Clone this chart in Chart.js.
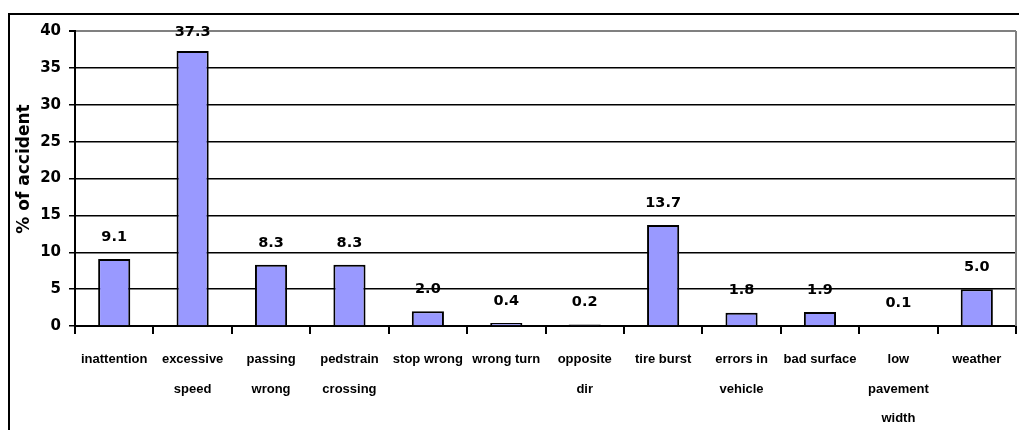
<!DOCTYPE html>
<html>
<head>
<meta charset="utf-8">
<title>% of accident by cause</title>
<script src="https://cdn.jsdelivr.net/npm/chart.js@4/dist/chart.umd.min.js"></script>
<style>
  html, body { margin: 0; padding: 0; background: #ffffff; }
  canvas { display: block; }
</style>
</head>
<body>
<canvas id="c" width="1019" height="430"></canvas>
<script>
// Accident causes (multi-line category labels) and their share in percent
const categories = [
  ["inattention"],
  ["excessive", "speed"],
  ["passing", "wrong"],
  ["pedstrain", "crossing"],
  ["stop wrong"],
  ["wrong turn"],
  ["opposite", "dir"],
  ["tire burst"],
  ["errors in", "vehicle"],
  ["bad surface"],
  ["low", "pavement", "width"],
  ["weather"]
];
const percentValues = [9.1, 37.3, 8.3, 8.3, 2.0, 0.4, 0.2, 13.7, 1.8, 1.9, 0.1, 5.0];

// Value axis range and tick step
const yMin = 0;
const yMax = 40;
const yStep = 5;
const yTitle = "% of accident";

const NUM_FONT = "bold 14.5px 'DejaVu Sans', sans-serif";

// Outer chart frame plus the grey right edge of the plot area
const framePlugin = {
  id: "frame",
  beforeDraw(chart) {
    const ctx = chart.ctx;
    ctx.save();
    ctx.fillStyle = "#ffffff";
    ctx.fillRect(0, 0, chart.width, chart.height);
    ctx.strokeStyle = "#000000";
    ctx.lineWidth = 2;
    ctx.beginPath();
    ctx.moveTo(9, chart.height + 5);
    ctx.lineTo(9, 14);
    ctx.lineTo(chart.width + 5, 14);
    ctx.stroke();
    ctx.restore();
  },
  beforeDatasetsDraw(chart) {
    const { ctx, chartArea } = chart;
    ctx.save();
    ctx.strokeStyle = "#808080";
    ctx.lineWidth = 2;
    ctx.beginPath();
    ctx.moveTo(chartArea.right, chartArea.top);
    ctx.lineTo(chartArea.right, chartArea.bottom);
    ctx.stroke();
    ctx.restore();
  }
};

// Value labels above each bar
const valueLabelPlugin = {
  id: "valueLabels",
  afterDatasetsDraw(chart) {
    const { ctx, chartArea } = chart;
    const meta = chart.getDatasetMeta(0);
    const data = chart.data.datasets[0].data;
    ctx.save();
    ctx.font = NUM_FONT;
    ctx.fillStyle = "#000000";
    ctx.textAlign = "center";
    ctx.textBaseline = "middle";
    meta.data.forEach((bar, i) => {
      const y = Math.max(bar.y - 22, chartArea.top + 1.5);
      ctx.fillText(data[i].toFixed(1), bar.x, y);
    });
    ctx.restore();
  }
};

// Rotated value-axis title
const yTitlePlugin = {
  id: "yTitle",
  afterDraw(chart) {
    const ctx = chart.ctx;
    ctx.save();
    ctx.translate(25, 169);
    ctx.rotate(-Math.PI / 2);
    ctx.font = "bold 17px 'DejaVu Sans', sans-serif";
    ctx.fillStyle = "#000000";
    ctx.textAlign = "center";
    ctx.textBaseline = "middle";
    ctx.fillText(yTitle, 0, 0);
    ctx.restore();
  }
};

new Chart(document.getElementById("c"), {
  type: "bar",
  data: {
    labels: categories,
    datasets: [{
      data: percentValues,
      backgroundColor: "#9999FF",
      borderColor: "#000000",
      borderWidth: 2,
      categoryPercentage: 1.0,
      barPercentage: 0.41
    }]
  },
  options: {
    responsive: false,
    animation: false,
    events: [],
    layout: { padding: { top: 31, right: 3, left: 0, bottom: 0 } },
    plugins: {
      legend: { display: false },
      tooltip: { enabled: false },
      title: { display: false }
    },
    scales: {
      x: {
        offset: true,
        grid: {
          offset: true,
          drawOnChartArea: false,
          drawTicks: true,
          tickLength: 8,
          color: "#000000",
          lineWidth: 2
        },
        border: { display: true, color: "#000000", width: 2 },
        ticks: {
          color: "#000000",
          padding: 11,
          maxRotation: 0,
          minRotation: 0,
          autoSkip: false,
          font: { family: "'Liberation Sans', Arial, sans-serif", size: 13, weight: "bold", lineHeight: "29.5px" }
        },
        afterFit(scale) { scale.height = 104; }
      },
      y: {
        min: yMin,
        max: yMax,
        grid: {
          drawTicks: true,
          tickLength: 6,
          color: (c) => (c.tick && c.tick.value === yMax ? "#808080" : "#000000"),
          lineWidth: (c) => (c.tick && c.tick.value === yMax ? 2 : 1.5),
          tickColor: "#000000"
        },
        border: { display: true, color: "#000000", width: 2 },
        ticks: {
          stepSize: yStep,
          color: "#000000",
          padding: 8,
          font: { family: "'DejaVu Sans', sans-serif", size: 15, weight: "bold" }
        },
        afterFit(scale) { scale.width = 75; }
      }
    }
  },
  plugins: [framePlugin, valueLabelPlugin, yTitlePlugin]
});
</script>
</body>
</html>
